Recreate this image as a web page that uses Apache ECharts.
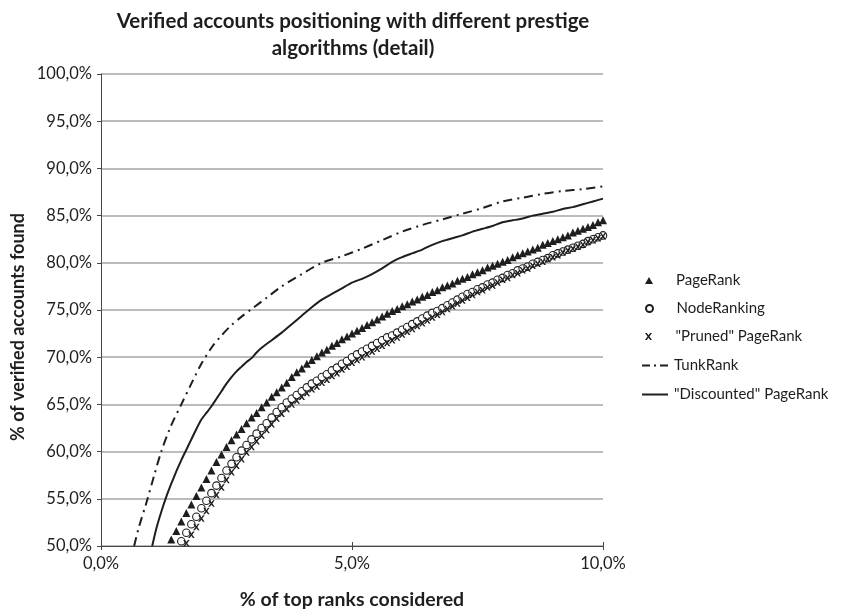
<!DOCTYPE html>
<html>
<head>
<meta charset="utf-8">
<script src="https://cdn.jsdelivr.net/npm/echarts@6/dist/echarts.min.js"></script>
<style>
  html, body { margin: 0; padding: 0; background: #fff; }
  #chart { width: 854px; height: 609px; }
</style>
</head>
<body>
<div id="chart"></div>
<script>
// Share of top ranks considered (%) at which the marker series are sampled
const sampleX = [
  1.4, 1.5, 1.6, 1.7, 1.8, 1.9, 2.0, 2.1, 2.2, 2.3, 2.4, 2.5, 2.6, 2.7, 2.8, 2.9,
  3.0, 3.1, 3.2, 3.3, 3.4, 3.5, 3.6, 3.7, 3.8, 3.9, 4.0, 4.1, 4.2, 4.3, 4.4, 4.5,
  4.6, 4.7, 4.8, 4.9, 5.0, 5.1, 5.2, 5.3, 5.4, 5.5, 5.6, 5.7, 5.8, 5.9, 6.0, 6.1,
  6.2, 6.3, 6.4, 6.5, 6.6, 6.7, 6.8, 6.9, 7.0, 7.1, 7.2, 7.3, 7.4, 7.5, 7.6, 7.7,
  7.8, 7.9, 8.0, 8.1, 8.2, 8.3, 8.4, 8.5, 8.6, 8.7, 8.8, 8.9, 9.0, 9.1, 9.2, 9.3,
  9.4, 9.5, 9.6, 9.7, 9.8, 9.9, 10.0
];

// % of verified accounts found, aligned with sampleX
const pageRank = [
  50.7, 51.6, 52.6, 53.5, 54.4, 55.3, 56.2, 57.1, 58.0, 58.9, 59.7, 60.5, 61.2, 61.8, 62.4, 63.0,
  63.6, 64.1, 64.7, 65.2, 65.8, 66.3, 66.8, 67.3, 67.9, 68.4, 68.8, 69.3, 69.7, 70.1, 70.5, 70.8,
  71.2, 71.5, 71.9, 72.2, 72.5, 72.8, 73.1, 73.4, 73.7, 74.0, 74.3, 74.6, 74.9, 75.1, 75.4, 75.6,
  75.9, 76.1, 76.4, 76.6, 76.9, 77.1, 77.4, 77.6, 77.8, 78.1, 78.3, 78.5, 78.8, 79.0, 79.2, 79.5,
  79.7, 79.9, 80.1, 80.3, 80.6, 80.8, 81.0, 81.2, 81.4, 81.6, 81.9, 82.1, 82.3, 82.5, 82.7, 82.9,
  83.2, 83.4, 83.6, 83.8, 84.0, 84.3, 84.5
];

const nodeRanking = [
  null, null, 50.5, 51.4, 52.3, 53.1, 54.0, 54.8, 55.6, 56.4, 57.2, 58.0, 58.7, 59.4, 60.1, 60.7,
  61.3, 61.9, 62.5, 63.0, 63.6, 64.2, 64.7, 65.2, 65.6, 66.0, 66.4, 66.8, 67.2, 67.5, 67.9, 68.2,
  68.6, 68.9, 69.3, 69.6, 70.0, 70.3, 70.6, 70.9, 71.2, 71.5, 71.8, 72.1, 72.3, 72.6, 72.9, 73.2,
  73.5, 73.8, 74.1, 74.4, 74.7, 74.9, 75.2, 75.5, 75.8, 76.1, 76.4, 76.7, 76.9, 77.2, 77.4, 77.7,
  77.9, 78.2, 78.4, 78.7, 78.9, 79.2, 79.4, 79.6, 79.9, 80.1, 80.3, 80.5, 80.8, 81.0, 81.2, 81.4,
  81.6, 81.8, 82.0, 82.3, 82.5, 82.7, 82.9
];

const prunedPageRank = [
  null, null, null, 50.3, 51.2, 52.0, 52.9, 53.7, 54.5, 55.4, 56.2, 57.0, 57.8, 58.5, 59.2, 59.9,
  60.5, 61.1, 61.7, 62.3, 62.9, 63.5, 64.0, 64.5, 65.0, 65.4, 65.8, 66.2, 66.6, 66.9, 67.3, 67.6,
  68.0, 68.3, 68.7, 69.0, 69.4, 69.7, 70.0, 70.3, 70.6, 70.9, 71.2, 71.5, 71.8, 72.1, 72.4, 72.7,
  73.0, 73.3, 73.6, 73.9, 74.2, 74.5, 74.8, 75.1, 75.4, 75.7, 76.0, 76.3, 76.6, 76.9, 77.1, 77.4,
  77.6, 77.9, 78.2, 78.4, 78.7, 78.9, 79.2, 79.4, 79.7, 79.9, 80.1, 80.4, 80.6, 80.8, 81.1, 81.3,
  81.5, 81.7, 81.9, 82.2, 82.4, 82.6, 82.8
];

// Line series: x (% of top ranks) and y (% of verified accounts found)
const tunkRankX = [0.66, 0.75, 0.9, 1.05, 1.2, 1.4, 1.6, 1.8, 2.0, 2.2, 2.4, 2.6, 2.8, 3.0, 3.3, 3.6,
  4.0, 4.4, 4.8, 5.2, 5.6, 6.0, 6.4, 6.8, 7.2, 7.6, 8.0, 8.4, 8.8, 9.2, 9.6, 10.0];
const tunkRankY = [50.0, 51.9, 54.5, 57.3, 60.0, 62.8, 65.0, 67.2, 69.3, 71.0, 72.3, 73.4, 74.3, 75.1, 76.3, 77.5,
  78.8, 80.0, 80.7, 81.5, 82.4, 83.3, 84.0, 84.6, 85.2, 85.8, 86.5, 86.9, 87.3, 87.6, 87.8, 88.1];

const discountedX = [1.02, 1.1, 1.2, 1.3, 1.4, 1.5, 1.6, 1.7, 1.8, 1.9, 2.0, 2.1, 2.2, 2.3, 2.4, 2.5,
  2.6, 2.7, 2.8, 2.9, 3.0, 3.1, 3.2, 3.4, 3.6, 3.8, 4.0, 4.2, 4.4, 4.6, 4.8, 5.0, 5.2, 5.4, 5.6, 5.8,
  6.0, 6.2, 6.4, 6.6, 6.8, 7.0, 7.2, 7.4, 7.6, 7.8, 8.0, 8.2, 8.4, 8.6, 8.8, 9.0, 9.2, 9.4, 9.6, 9.8, 10.0];
const discountedY = [50.0, 51.8, 53.6, 55.2, 56.6, 57.9, 59.1, 60.2, 61.3, 62.4, 63.4, 64.1, 64.8, 65.6, 66.4, 67.2,
  67.9, 68.5, 69.0, 69.5, 69.9, 70.5, 71.0, 71.8, 72.6, 73.5, 74.4, 75.3, 76.1, 76.7, 77.3, 77.9, 78.3, 78.8, 79.4, 80.1,
  80.6, 81.0, 81.4, 81.9, 82.3, 82.6, 82.9, 83.3, 83.6, 83.9, 84.3, 84.5, 84.7, 85.0, 85.2, 85.4, 85.7, 85.9, 86.2, 86.5, 86.8];

const seriesNames = ['PageRank', 'NodeRanking', '"Pruned" PageRank', 'TunkRank', '"Discounted" PageRank'];
const xTicks = [0, 5, 10];
const yRange = [50, 100];

const pairs = (xs, ys) => xs.map((x, i) => [x, ys[i]]).filter(p => p[1] !== null);
const pct = v => v.toFixed(1).replace('.', ',') + '%';

const INK = '#1e1e1e';
const AXIS = '#474747';
const FONT = 'Lato';
const DASH_DOT = [9, 5, 2, 5];
const crossPath = 'path://M0,0 L2.6,0 L5,3.2 L7.4,0 L10,0 L6.4,5 L10,10 L7.4,10 L5,6.8 L2.6,10 L0,10 L3.6,5 Z';
// legend keys for the two line series (filled bars forming a solid / dash-dot stroke)
const solidKey = 'path://M0,0 L26,0 L26,2 L0,2 Z';
const dashDotKey = 'path://M0,0 L8,0 L8,2 L0,2 Z M12,0 L14,0 L14,2 L12,2 Z M18,0 L26,0 L26,2 L18,2 Z';

const chart = echarts.init(document.getElementById('chart'), null, { renderer: 'canvas' });

// one legend block per entry so each row sits at its own height
const legendCenters = [281, 309, 337, 366, 395];
const legends = seriesNames.map((name, i) => {
  const isLine = i >= 3;
  const entry = { name: name };
  if (isLine) entry.icon = i === 3 ? dashDotKey : solidKey;
  const block = {
    data: [entry],
    left: isLine ? 642 : 645,
    top: legendCenters[i] - 8,
    padding: 0,
    itemWidth: isLine ? 26 : 8,
    itemHeight: isLine ? 2 : 7,
    selectedMode: false,
    textStyle: {
      fontFamily: FONT, fontSize: 15, color: INK,
      padding: isLine ? [0, 0, 0, 1] : [0, 0, 0, 18]
    }
  };
  if (isLine) {
    block.itemStyle = { color: INK, opacity: 1 };
    block.lineStyle = { width: 0, opacity: 0 };
  }
  return block;
});

const option = {
  backgroundColor: '#ffffff',
  animation: false,
  title: {
    text: 'Verified accounts positioning with different prestige\nalgorithms (detail)',
    left: 348,
    textAlign: 'center',
    top: 3,
    textStyle: { fontFamily: FONT, fontSize: 20.5, fontWeight: 'bold', color: INK, lineHeight: 27 }
  },
  legend: legends,
  graphic: [{
    type: 'text',
    x: 18,
    y: 327,
    rotation: Math.PI / 2,
    style: {
      text: '% of verified accounts found',
      fontFamily: FONT, fontSize: 18, fontWeight: 'bold', fill: INK,
      align: 'center', verticalAlign: 'middle'
    }
  }],
  grid: { left: 101, right: 251, top: 74, bottom: 63, containLabel: false, outerBoundsMode: 'none' },
  xAxis: [{
    type: 'value',
    min: xTicks[0], max: xTicks[xTicks.length - 1], interval: 5,
    name: '% of top ranks considered',
    nameLocation: 'middle',
    nameGap: 44,
    nameTextStyle: { fontFamily: FONT, fontSize: 19.5, fontWeight: 'bold', color: INK },
    axisLine: { show: true, lineStyle: { color: AXIS, width: 1 } },
    axisTick: { show: true, length: 4, lineStyle: { color: AXIS } },
    axisLabel: { formatter: pct, fontFamily: FONT, fontSize: 16.5, color: INK, margin: 9 },
    splitLine: { show: false }
  }, {
    type: 'value',
    position: 'bottom',
    min: xTicks[0], max: xTicks[xTicks.length - 1], interval: 5,
    axisLine: { show: false },
    axisTick: { show: true, inside: true, length: 4, lineStyle: { color: AXIS } },
    axisLabel: { show: false },
    splitLine: { show: false }
  }],
  yAxis: {
    type: 'value',
    min: yRange[0], max: yRange[1], interval: 5,
    axisLine: { show: true, lineStyle: { color: AXIS, width: 1 } },
    axisTick: { show: true, length: 4, lineStyle: { color: AXIS } },
    axisLabel: { formatter: pct, fontFamily: FONT, fontSize: 16.5, color: INK, margin: 9 },
    splitLine: { show: true, lineStyle: { color: '#a6a6a6', width: 1.5 } }
  },
  series: [
    {
      name: seriesNames[0], type: 'scatter', xAxisIndex: 0,
      data: pairs(sampleX, pageRank),
      symbol: 'triangle', symbolSize: 8,
      itemStyle: { color: INK, opacity: 1 }
    },
    {
      name: seriesNames[1], type: 'scatter', xAxisIndex: 0,
      data: pairs(sampleX, nodeRanking),
      symbol: 'circle', symbolSize: 7.5,
      itemStyle: { color: '#ffffff', borderColor: INK, borderWidth: 1.1, opacity: 1 }
    },
    {
      name: seriesNames[2], type: 'scatter', xAxisIndex: 0,
      data: pairs(sampleX, prunedPageRank),
      symbol: crossPath, symbolSize: 6.5,
      itemStyle: { color: INK, opacity: 1 }
    },
    {
      name: seriesNames[3], type: 'line', xAxisIndex: 0,
      data: pairs(tunkRankX, tunkRankY),
      symbol: 'none', smooth: 0.3,
      lineStyle: { color: INK, width: 2, type: DASH_DOT },
      itemStyle: { color: INK }
    },
    {
      name: seriesNames[4], type: 'line', xAxisIndex: 0,
      data: pairs(discountedX, discountedY),
      symbol: 'none', smooth: 0.2,
      lineStyle: { color: INK, width: 2 },
      itemStyle: { color: INK }
    }
  ]
};

chart.setOption(option);
</script>
</body>
</html>
